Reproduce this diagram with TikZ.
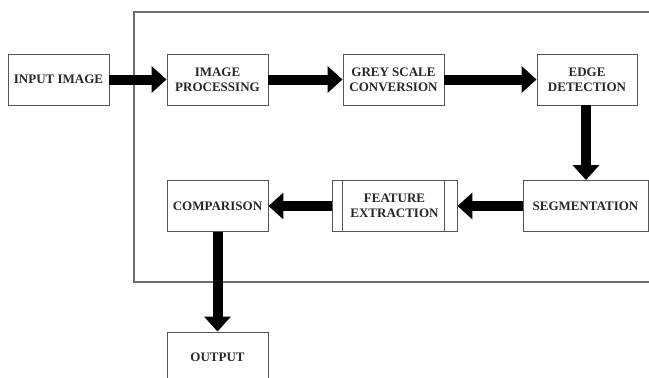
\documentclass[tikz,border=0pt]{standalone}
\usepackage{fontspec}
\setmainfont{Liberation Serif}
\usetikzlibrary{arrows.meta}
\definecolor{boxline}{RGB}{85,85,85}
\definecolor{frameline}{RGB}{110,110,110}
\definecolor{txt}{RGB}{40,40,40}
\tikzset{
  box/.style={draw=boxline, line width=0.9pt, fill=white, minimum width=101pt, minimum height=51pt,
    inner sep=0pt, align=center, text=txt, font=\fontsize{13}{15}\selectfont\bfseries},
  bigarrow/.style={line width=10pt, -{Triangle[width=26pt,length=15pt]}, black}
}
\begin{document}
\begin{tikzpicture}[x=1pt,y=-1pt]
\useasboundingbox (0,0) rectangle (649,378);
\clip (0,0) rectangle (649,378);
\fill[white] (0,0) rectangle (649,378);
% frame
\draw[frameline, line width=1.2pt] (660,12) -- (134,12) -- (134,282) -- (660,282);
% nodes
\node[box] (in) at (58.5,79.5) {INPUT IMAGE};
\node[box] (ip) at (217.5,79.5) {IMAGE\\PROCESSING};
\node[box] (gs) at (393.5,79.5) {GREY SCALE\\CONVERSION};
\node[box, minimum width=100pt] (ed) at (587,79.5) {EDGE\\DETECTION};
\node[box, minimum width=125pt] (sg) at (585.5,206) {SEGMENTATION};
\node[box, minimum width=125pt] (fe) at (394.5,206) {FEATURE\\EXTRACTION};
\draw[boxline, line width=0.9pt] ([xshift=11pt]fe.north west) -- ([xshift=11pt]fe.south west);
\draw[boxline, line width=0.9pt] ([xshift=-13pt]fe.north east) -- ([xshift=-13pt]fe.south east);
\node[box] (cp) at (217.5,206) {COMPARISON};
\node[box, minimum height=60pt, text depth=0pt] (out) at (217.5,362) {};
\node[text=txt, font=\fontsize{13}{15}\selectfont\bfseries] (outl) at (217.5,357) {OUTPUT};
% arrows
\draw[bigarrow] (in.east) -- (ip.west);
\draw[bigarrow] (ip.east) -- (gs.west);
\draw[bigarrow] (gs.east) -- (ed.west);
\draw[bigarrow] ([xshift=-1pt]ed.south) -- ([xshift=-1pt]ed.south |- sg.north);
\draw[bigarrow] (sg.west) -- (fe.east);
\draw[bigarrow] (fe.west) -- (cp.east);
\draw[bigarrow] (cp.south) -- (out.north);
\end{tikzpicture}
\end{document}
